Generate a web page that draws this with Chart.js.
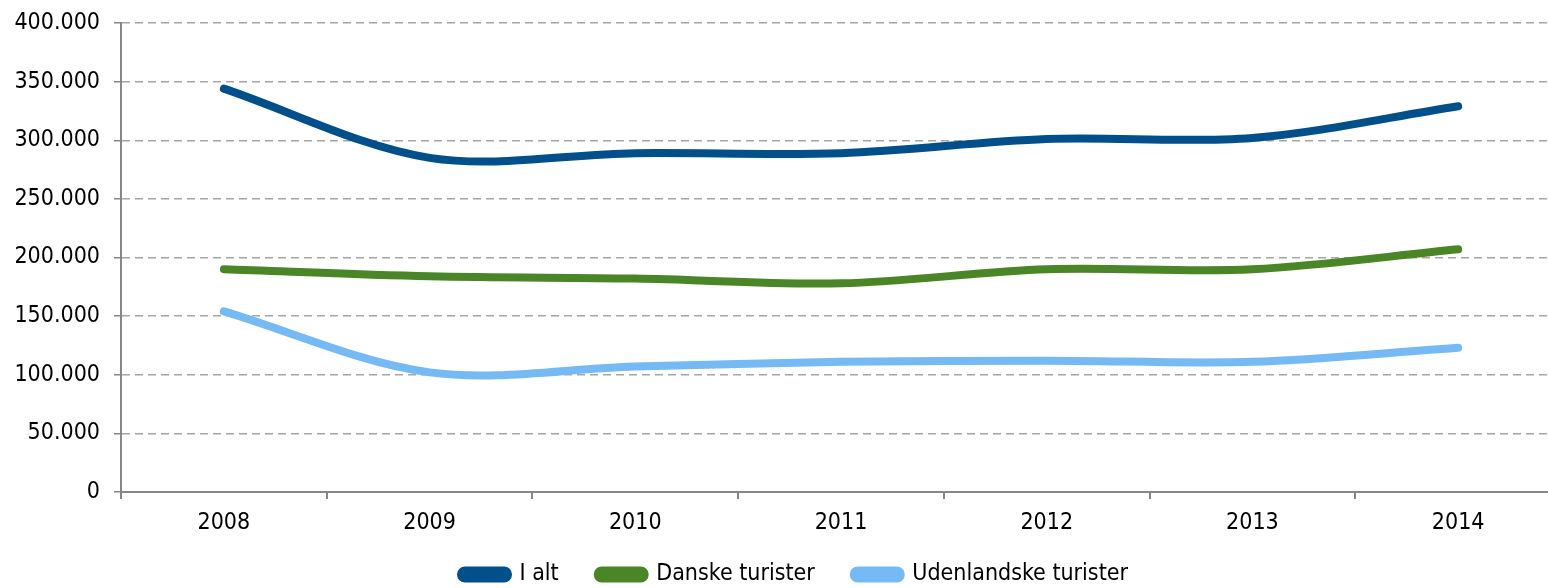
<!DOCTYPE html>
<html>
<head>
<meta charset="utf-8">
<script src="https://cdn.jsdelivr.net/npm/chart.js@4/dist/chart.umd.min.js"></script>
<style>
  html, body { margin: 0; padding: 0; background: #fff; overflow: hidden; }
  #wrap { width: 1562px; height: 588px; position: relative; }
</style>
</head>
<body>
<div id="wrap"><canvas id="chart"></canvas></div>
<script>
const years = ["2008", "2009", "2010", "2011", "2012", "2013", "2014"];
const iAlt = [344000, 285000, 289000, 289000, 301000, 302000, 329000];
const danske = [190000, 184000, 182000, 178000, 190000, 190000, 207000];
const udenlandske = [154000, 102000, 107000, 111000, 112000, 111000, 123000];

const axisGrey = "#868686";
const gridGrey = "#A6A6A6";
const fontSpec = { family: "'DejaVu Sans Condensed', 'DejaVu Sans'", size: 23 };

// format with dot as thousands separator
const fmt = v => String(v).replace(/\B(?=(\d{3})+(?!\d))/g, ".");

// nudge the legend, Excel puts it a bit to the right and higher
const legendShift = {
  id: "legendShift",
  afterLayout(chart) {
    const lg = chart.legend;
    lg.left += 14; lg.right += 14;
    lg.top -= 19;
  }
};

function line(label, data, color) {
  return {
    label: label,
    data: data,
    borderColor: color,
    backgroundColor: color,
    borderWidth: 8,
    borderCapStyle: "round",
    fill: false,
    tension: 0.33,
    pointRadius: 0,
    pointHoverRadius: 0
  };
}

new Chart(document.getElementById("chart"), {
  type: "line",
  data: {
    labels: years,
    datasets: [
      line("I alt", iAlt, "#02508B"),
      line("Danske turister", danske, "#4A8627"),
      line("Udenlandske turister", udenlandske, "#75BAF4")
    ]
  },
  options: {
    responsive: true,
    maintainAspectRatio: false,
    animation: false,
    layout: { padding: { top: 23, right: 1, left: 0, bottom: 0 } },
    plugins: {
      tooltip: { enabled: false },
      legend: {
        position: "bottom",
        maxHeight: 45,
        labels: {
          color: "#000",
          font: fontSpec,
          boxWidth: 47,
          boxHeight: 8,
          useBorderRadius: true,
          borderRadius: 4,
          padding: 39
        }
      }
    },
    scales: {
      x: {
        offset: true,
        afterFit(s) { s.height = 51; },
        grid: {
          offset: true,
          drawOnChartArea: false,
          drawTicks: true,
          tickLength: 7,
          color: axisGrey,
          lineWidth: 2
        },
        border: { display: true, color: axisGrey, width: 2 },
        ticks: { color: "#000", font: fontSpec, padding: 10, maxRotation: 0 }
      },
      y: {
        min: 0,
        max: 400000,
        afterFit(s) {
          s.width = 121;
          s.paddingTop = 0;
          s.paddingBottom = 0;
        },
        grid: {
          color: ctx => ctx.tick && ctx.tick.value === 0 ? "rgba(0,0,0,0)" : gridGrey,
          tickColor: axisGrey,
          lineWidth: 1.5,
          tickLength: 7
        },
        border: { display: true, color: axisGrey, width: 2, dash: [8, 5] },
        ticks: {
          stepSize: 50000,
          color: "#000",
          font: fontSpec,
          padding: 14,
          callback: v => fmt(v)
        }
      }
    }
  },
  plugins: [legendShift]
});
</script>
</body>
</html>
